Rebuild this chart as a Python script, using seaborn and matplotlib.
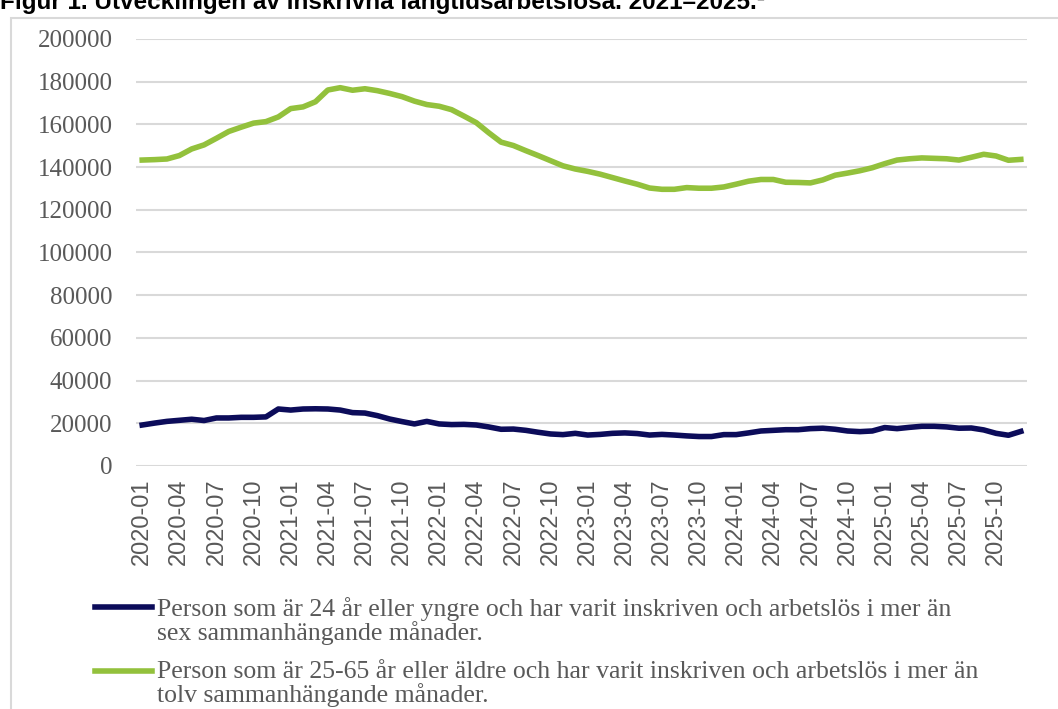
import matplotlib.pyplot as plt
import seaborn as sns
import pandas as pd
import numpy as np
from matplotlib.patches import Rectangle

# Månader 2020-01 .. 2025-12
months = [str(p) for p in pd.period_range("2020-01", "2025-12", freq="M")]

# Person 24 år eller yngre, inskriven > 6 månader
young = [19200, 20100, 20900, 21400, 21900, 21300, 22500, 22500, 22800, 22800,
         23000, 26700, 26200, 26700, 26800, 26700, 26200, 25000, 24800, 23600,
         22000, 20800, 19700, 20900, 19700, 19400, 19500, 19200, 18300, 17200,
         17300, 16700, 15800, 15000, 14700, 15300, 14500, 14800, 15300, 15500,
         15200, 14500, 14800, 14500, 14100, 13800, 13800, 14700, 14700, 15500,
         16400, 16700, 17000, 17000, 17500, 17700, 17200, 16400, 16100, 16400,
         18000, 17500, 18100, 18600, 18600, 18300, 17700, 17800, 16900, 15300,
         14400, 16200]

# Person 25-65 år, inskriven > 12 månader
older = [143300, 143500, 143800, 145400, 148500, 150400, 153500, 156700, 158700, 160600,
         161300, 163500, 167400, 168200, 170600, 176100, 177200, 176000, 176700, 175800,
         174500, 173000, 170900, 169300, 168500, 166900, 163900, 160800, 156100, 151700,
         150100, 147700, 145400, 143000, 140600, 139100, 138000, 136700, 135100, 133500,
         132000, 130200, 129600, 129600, 130400, 130100, 130100, 130700, 132000, 133400,
         134200, 134200, 132900, 132800, 132600, 134000, 136200, 137200, 138300, 139700,
         141600, 143300, 143900, 144300, 144100, 143900, 143300, 144600, 146000, 145200,
         143200, 143600]

labels = [
    "Person som är 24 år eller yngre och har varit inskriven och arbetslös i mer än\nsex sammanhängande månader.",
    "Person som är 25-65 år eller äldre och har varit inskriven och arbetslös i mer än\ntolv sammanhängande månader.",
]
colors = ["#0c0c5a", "#93c13c"]

df = pd.DataFrame({
    "Månad": months * 2,
    "Antal": young + older,
    "Grupp": [labels[0]] * len(months) + [labels[1]] * len(months),
})

W, H = 1058, 709
fig = plt.figure(figsize=(W / 100, H / 100), dpi=100)
ax = fig.add_axes([136 / W, 1 - 466 / H, 891 / W, (466 - 39) / H])

sns.lineplot(data=df, x="Månad", y="Antal", hue="Grupp", palette=colors,
             linewidth=4.0, ax=ax, legend=False, sort=False)

ax.set_xlim(-0.5, len(months) - 0.5)
ax.set_ylim(0, 200000)
ax.set_yticks(np.arange(0, 200001, 20000))
ax.set_yticklabels([f"{v}" for v in range(0, 200001, 20000)])
tick_idx = list(range(0, len(months), 3))
ax.set_xticks(tick_idx)
ax.set_xticklabels([months[i] for i in tick_idx], rotation=90)
ax.tick_params(axis="y", length=0, pad=17, labelsize=18, labelcolor="#595959",
               labelfontfamily="Liberation Serif")
ax.tick_params(axis="x", length=0, pad=9, labelsize=17, labelcolor="#595959",
               labelfontfamily="Liberation Sans")
ax.set_xlabel("")
ax.set_ylabel("")
ax.grid(axis="y", color="#d9d9d9", linewidth=1.5)
ax.grid(axis="x", visible=False)
ax.set_axisbelow(True)
for s in ax.spines.values():
    s.set_visible(False)

# legend below the plot
handles = [plt.Line2D([], [], color=c, linewidth=4.0) for c in colors]
leg = fig.legend(handles, labels, loc="upper left",
                 bbox_to_anchor=(95 / W, 1 - 597 / H), frameon=False,
                 prop={"family": "Liberation Serif", "size": 18.5},
                 handlelength=2.2, handleheight=0.9, handletextpad=0.2,
                 labelspacing=0.6, borderpad=0, borderaxespad=0,
                 labelcolor="#595959")
for t in leg.get_texts():
    t.set_linespacing(1.02)
# put the line handle next to the first text line
for col in leg._legend_handle_box.get_children():
    for row in col.get_children():
        row.align = "top"

# outer chart border and cut-off title
fig.add_artist(Rectangle((11 / W, -0.05), 1.2, 1 - 18 / H + 0.05,
                         transform=fig.transFigure, fill=False,
                         edgecolor="#d9d9d9", linewidth=1.5))
fig.text(0 / W, 1 - 9 / H, "Figur 1. Utvecklingen av inskrivna långtidsarbetslösa. 2021–2025.¹",
         family="Liberation Sans", fontweight="bold", fontsize=17.5, va="baseline",
         color="black")

plt.savefig("out.png", dpi=100)
